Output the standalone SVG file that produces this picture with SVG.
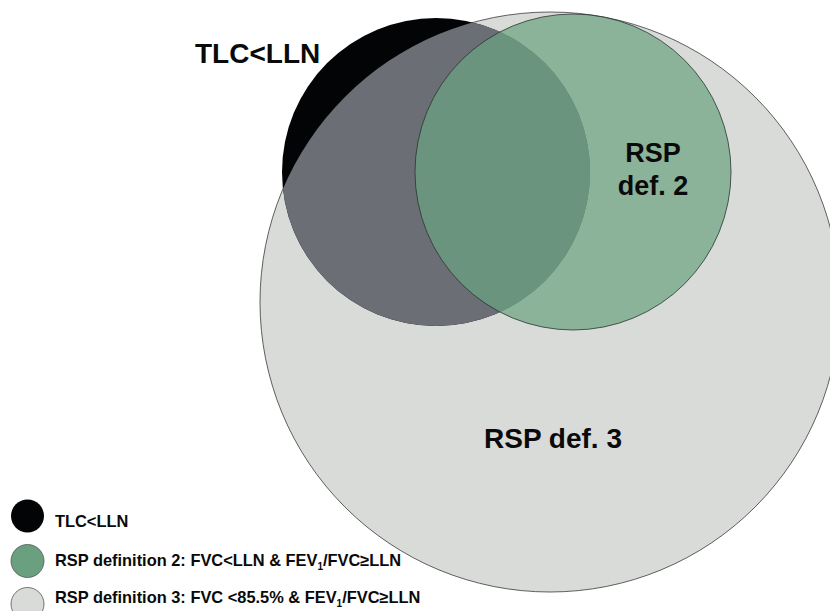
<svg xmlns="http://www.w3.org/2000/svg" width="830" height="611" viewBox="0 0 830 611">
<style>
text { font-family: "Liberation Sans", Arial, Helvetica, sans-serif; font-weight: bold; fill: #0a0a0a; }
.big { font-size: 28px; }
.mid { font-size: 27px; }
.leg { font-size: 16.4px; }
.sub { font-size: 10px; }
</style>
<defs>
<clipPath id="clipGrey"><circle cx="550" cy="302" r="290"/></clipPath>
</defs>
<rect x="0" y="0" width="830" height="611" fill="#ffffff"/>
<g id="rsp-def3">
<circle cx="550" cy="302" r="290" fill="#d9dbd8" stroke="#3a3a3a" stroke-width="0.8"/>
</g>
<g id="tlc-lln">
<circle cx="436" cy="172" r="154" fill="#030405"/>
<circle cx="436" cy="172" r="154" fill="#6b6e75" clip-path="url(#clipGrey)"/>
</g>
<g id="rsp-def2">
<circle cx="573" cy="172" r="158" fill="#6ba382" fill-opacity="0.72" stroke="#2a332e" stroke-width="0.8"/>
</g>
<g id="labels">
<text class="big" x="195" y="63">TLC&lt;LLN</text>
<text class="mid" x="653" y="162" text-anchor="middle">RSP</text>
<text class="mid" x="653" y="195" text-anchor="middle">def. 2</text>
<text class="big" x="553" y="448" text-anchor="middle">RSP def. 3</text>
</g>
<g id="legend">
<circle cx="27.5" cy="516" r="16.5" fill="#030405"/>
<circle cx="27.5" cy="561" r="16.5" fill="#6a9f7f" stroke="#555" stroke-width="0.8"/>
<circle cx="27.5" cy="604" r="16.5" fill="#d9dbd8" stroke="#555" stroke-width="0.8"/>
<text class="leg" x="55" y="527">TLC&lt;LLN</text>
<text class="leg" x="55" y="566">RSP definition 2: FVC&lt;LLN &amp; FEV<tspan class="sub" dy="4">1</tspan><tspan dy="-4">/FVC≥LLN</tspan></text>
<text class="leg" x="55" y="603">RSP definition 3: FVC &lt;85.5% &amp; FEV<tspan class="sub" dy="4">1</tspan><tspan dy="-4">/FVC≥LLN</tspan></text>
</g>
</svg>
